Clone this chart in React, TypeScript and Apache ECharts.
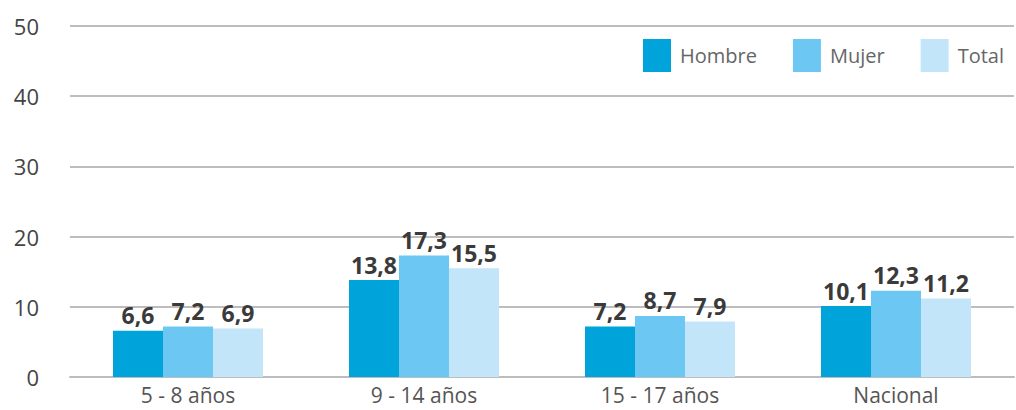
import React, { useEffect, useRef } from "react";
import * as echarts from "echarts";

const categories = ["5 - 8 años", "9 - 14 años", "15 - 17 años", "Nacional"];
const hombre = [6.6, 13.8, 7.2, 10.1];
const mujer = [7.2, 17.3, 8.7, 12.3];
const total = [6.9, 15.5, 7.9, 11.2];
const seriesNames = ["Hombre", "Mujer", "Total"];
const colors = ["#00A3DA", "#6DC7F3", "#C2E5FA"];

export default function App() {
  const ref = useRef<HTMLDivElement>(null);
  useEffect(() => {
    if (!ref.current) return;
    const chart = echarts.init(ref.current, undefined, { renderer: "svg" });
    const font = "'Open Sans', 'Noto Sans', sans-serif";
    const mk = (name: string, data: number[], color: string) => ({
      name,
      type: "bar",
      data,
      barWidth: 50,
      barGap: "0%",
      itemStyle: { color },
      label: {
        show: true,
        position: "top",
        distance: 4,
        color: "#3a3a3a",
        fontWeight: "bold",
        fontSize: 23,
        fontFamily: font,
        formatter: (p: any) => String(p.value).replace(".", ","),
      },
    });
    chart.setOption({
      animation: false,
      textStyle: { fontFamily: font },
      legend: {
        left: 638,
        top: 34,
        itemWidth: 28,
        itemHeight: 33,
        itemGap: 36,
        icon: "rect",
        data: seriesNames,
        textStyle: { color: "#666", fontSize: 20, fontFamily: font, padding: [0, 0, 0, 4] },
      },
      grid: { left: 70, right: 2, top: 26, bottom: 33 },
      xAxis: {
        type: "category",
        data: categories,
        axisTick: { show: false },
        axisLine: { show: true, lineStyle: { color: "#bdbdbd", width: 2 } },
        axisLabel: { color: "#555", fontSize: 21, margin: 6, lineHeight: 24, fontFamily: font },
      },
      yAxis: {
        type: "value",
        min: 0,
        max: 50,
        interval: 10,
        axisLine: { show: false },
        axisTick: { show: false },
        axisLabel: { color: "#444", fontSize: 22, margin: 31, fontFamily: font },
        splitLine: { lineStyle: { color: "#bdbdbd", width: 2 } },
      },
      series: [
        mk(seriesNames[0], hombre, colors[0]),
        mk(seriesNames[1], mujer, colors[1]),
        mk(seriesNames[2], total, colors[2]),
      ],
    });
    return () => chart.dispose();
  }, []);
  return (
    <div
      ref={ref}
      style={{ position: "fixed", left: 0, top: 0, width: 1016, height: 410, background: "#fff" }}
    />
  );
}
